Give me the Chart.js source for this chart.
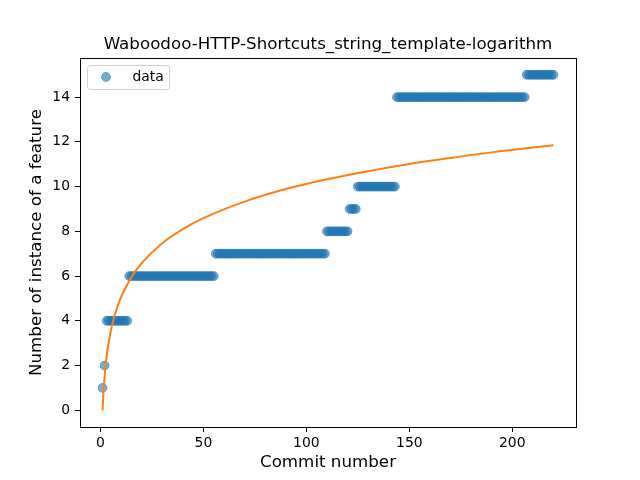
<!DOCTYPE html>
<html>
<head>
<meta charset="utf-8">
<script src="https://cdn.jsdelivr.net/npm/chart.js@4/dist/chart.umd.min.js"></script>
<style>
html,body{margin:0;padding:0;background:#fff;}
#wrap{width:640px;height:480px;}
</style>
</head>
<body>
<div id="wrap"><canvas id="c" width="640" height="480"></canvas></div>
<script>
// Feature counts per commit (commit number = index + 1)
const featureCounts = [
  1, 2,
  4,4,4,4,4,4,4,4,4,4,4,
  6,6,6,6,6,6,6,6,6,6,6,6,6,6,6,6,6,6,6,6,6,6,6,6,6,6,6,6,6,6,6,6,6,6,6,6,6,6,6,6,6,6,
  7,7,7,7,7,7,7,7,7,7,7,7,7,7,7,7,7,7,7,7,7,7,7,7,7,7,7,7,7,7,7,7,7,7,7,7,7,7,7,7,7,7,7,7,7,7,7,7,7,7,7,7,7,7,
  8,8,8,8,8,8,8,8,8,8,8,
  9,9,9,9,
  10,10,10,10,10,10,10,10,10,10,10,10,10,10,10,10,10,10,10,
  14,14,14,14,14,14,14,14,14,14,14,14,14,14,14,14,14,14,14,14,14,14,14,14,14,14,14,14,14,14,14,14,14,14,14,14,14,14,14,14,14,14,14,14,14,14,14,14,14,14,14,14,14,14,14,14,14,14,14,14,14,14,14,
  15,15,15,15,15,15,15,15,15,15,15,15,15,15
];
// Fitted logarithmic curve
const fitX = [1, 1.5, 2, 3, 4, 6, 8, 10, 15, 20, 30, 40, 50, 70, 90, 110, 130, 150, 170, 190, 220];
const fitY = [0, 0.89, 1.52, 2.41, 3.05, 3.94, 4.57, 5.06, 5.95, 6.58, 7.47, 8.10, 8.59, 9.33, 9.89, 10.33, 10.69, 11.01, 11.28, 11.53, 11.85];
const xTicks = [0, 50, 100, 150, 200];
const yTicks = [0, 2, 4, 6, 8, 10, 12, 14];

const titleText = 'Waboodoo-HTTP-Shortcuts_string_template-logarithm';
const xLabel = 'Commit number';
const yLabel = 'Number of instance of a feature';
const legendLabel = 'data';

const FONT = "'DejaVu Sans', sans-serif";
const pointColor = 'rgba(31,119,180,0.6)';

const dataPts = featureCounts.map((v, i) => ({x: i + 1, y: v}));
const fitPts = fitX.map((x, i) => ({x: x, y: fitY[i]}));

const decor = {
  id: 'decor',
  afterDraw(chart) {
    const ctx = chart.ctx;
    const a = chart.chartArea;
    ctx.save();
    // frame
    ctx.strokeStyle = '#000';
    ctx.lineWidth = 1;
    ctx.strokeRect(Math.round(a.left) + 0.5, Math.round(a.top) + 0.5, Math.round(a.right - a.left), Math.round(a.bottom - a.top));
    // title
    ctx.fillStyle = '#000';
    ctx.font = '16.7px ' + FONT;
    ctx.textAlign = 'center';
    ctx.textBaseline = 'alphabetic';
    ctx.fillText(titleText, (a.left + a.right) / 2, 49);
    // x label
    ctx.font = '16.7px ' + FONT;
    ctx.textBaseline = 'middle';
    ctx.fillText(xLabel, (a.left + a.right) / 2, 463);
    // y label
    ctx.save();
    ctx.translate(37, (a.top + a.bottom) / 2);
    ctx.rotate(-Math.PI / 2);
    ctx.fillText(yLabel, 0, 0);
    ctx.restore();
    // legend
    const lx = 87.5, ly = 65.5, lw = 82, lh = 24, r = 3;
    ctx.beginPath();
    ctx.moveTo(lx + r, ly);
    ctx.lineTo(lx + lw - r, ly);
    ctx.quadraticCurveTo(lx + lw, ly, lx + lw, ly + r);
    ctx.lineTo(lx + lw, ly + lh - r);
    ctx.quadraticCurveTo(lx + lw, ly + lh, lx + lw - r, ly + lh);
    ctx.lineTo(lx + r, ly + lh);
    ctx.quadraticCurveTo(lx, ly + lh, lx, ly + lh - r);
    ctx.lineTo(lx, ly + r);
    ctx.quadraticCurveTo(lx, ly, lx + r, ly);
    ctx.closePath();
    ctx.fillStyle = 'rgba(255,255,255,0.8)';
    ctx.fill();
    ctx.strokeStyle = '#d0d0d0';
    ctx.lineWidth = 1;
    ctx.stroke();
    ctx.beginPath();
    ctx.arc(106, 77, 4.4, 0, Math.PI * 2);
    ctx.fillStyle = pointColor;
    ctx.fill();
    ctx.strokeStyle = pointColor;
    ctx.stroke();
    ctx.fillStyle = '#000';
    ctx.font = '13.9px ' + FONT;
    ctx.textAlign = 'left';
    ctx.textBaseline = 'middle';
    ctx.fillText(legendLabel, 132.5, 77);
    ctx.restore();
  }
};

new Chart(document.getElementById('c'), {
  type: 'scatter',
  data: {
    datasets: [
      {
        label: legendLabel,
        data: dataPts,
        backgroundColor: pointColor,
        borderColor: pointColor,
        borderWidth: 1,
        pointRadius: 4.4,
        pointHoverRadius: 4.4,
        showLine: false,
        order: 2
      },
      {
        label: 'fit',
        data: fitPts,
        showLine: true,
        borderColor: '#ff7f0e',
        borderWidth: 2,
        pointRadius: 0,
        fill: false,
        cubicInterpolationMode: 'monotone',
        order: 1
      }
    ]
  },
  options: {
    responsive: false,
    animation: false,
    devicePixelRatio: 1,
    layout: {padding: {left: 0, top: 58, right: 64, bottom: 0}},
    plugins: {legend: {display: false}, title: {display: false}, tooltip: {enabled: false}},
    scales: {
      x: {
        type: 'linear',
        min: -9.95,
        max: 230.95,
        afterFit: s => { s.height = 53; },
        afterBuildTicks: s => { s.ticks = xTicks.map(v => ({value: v})); },
        grid: {drawOnChartArea: false, drawTicks: true, tickLength: 5, color: '#000', tickColor: '#000'},
        border: {display: false},
        ticks: {color: '#000', font: {family: FONT, size: 13.9}, padding: 3, maxRotation: 0, autoSkip: false}
      },
      y: {
        type: 'linear',
        min: -0.75,
        max: 15.75,
        afterFit: s => { s.width = 80; },
        afterBuildTicks: s => { s.ticks = yTicks.map(v => ({value: v})); },
        grid: {drawOnChartArea: false, drawTicks: true, tickLength: 5, color: '#000', tickColor: '#000'},
        border: {display: false},
        ticks: {color: '#000', font: {family: FONT, size: 13.9}, padding: 5, autoSkip: false}
      }
    }
  },
  plugins: [decor]
});
</script>
</body>
</html>
